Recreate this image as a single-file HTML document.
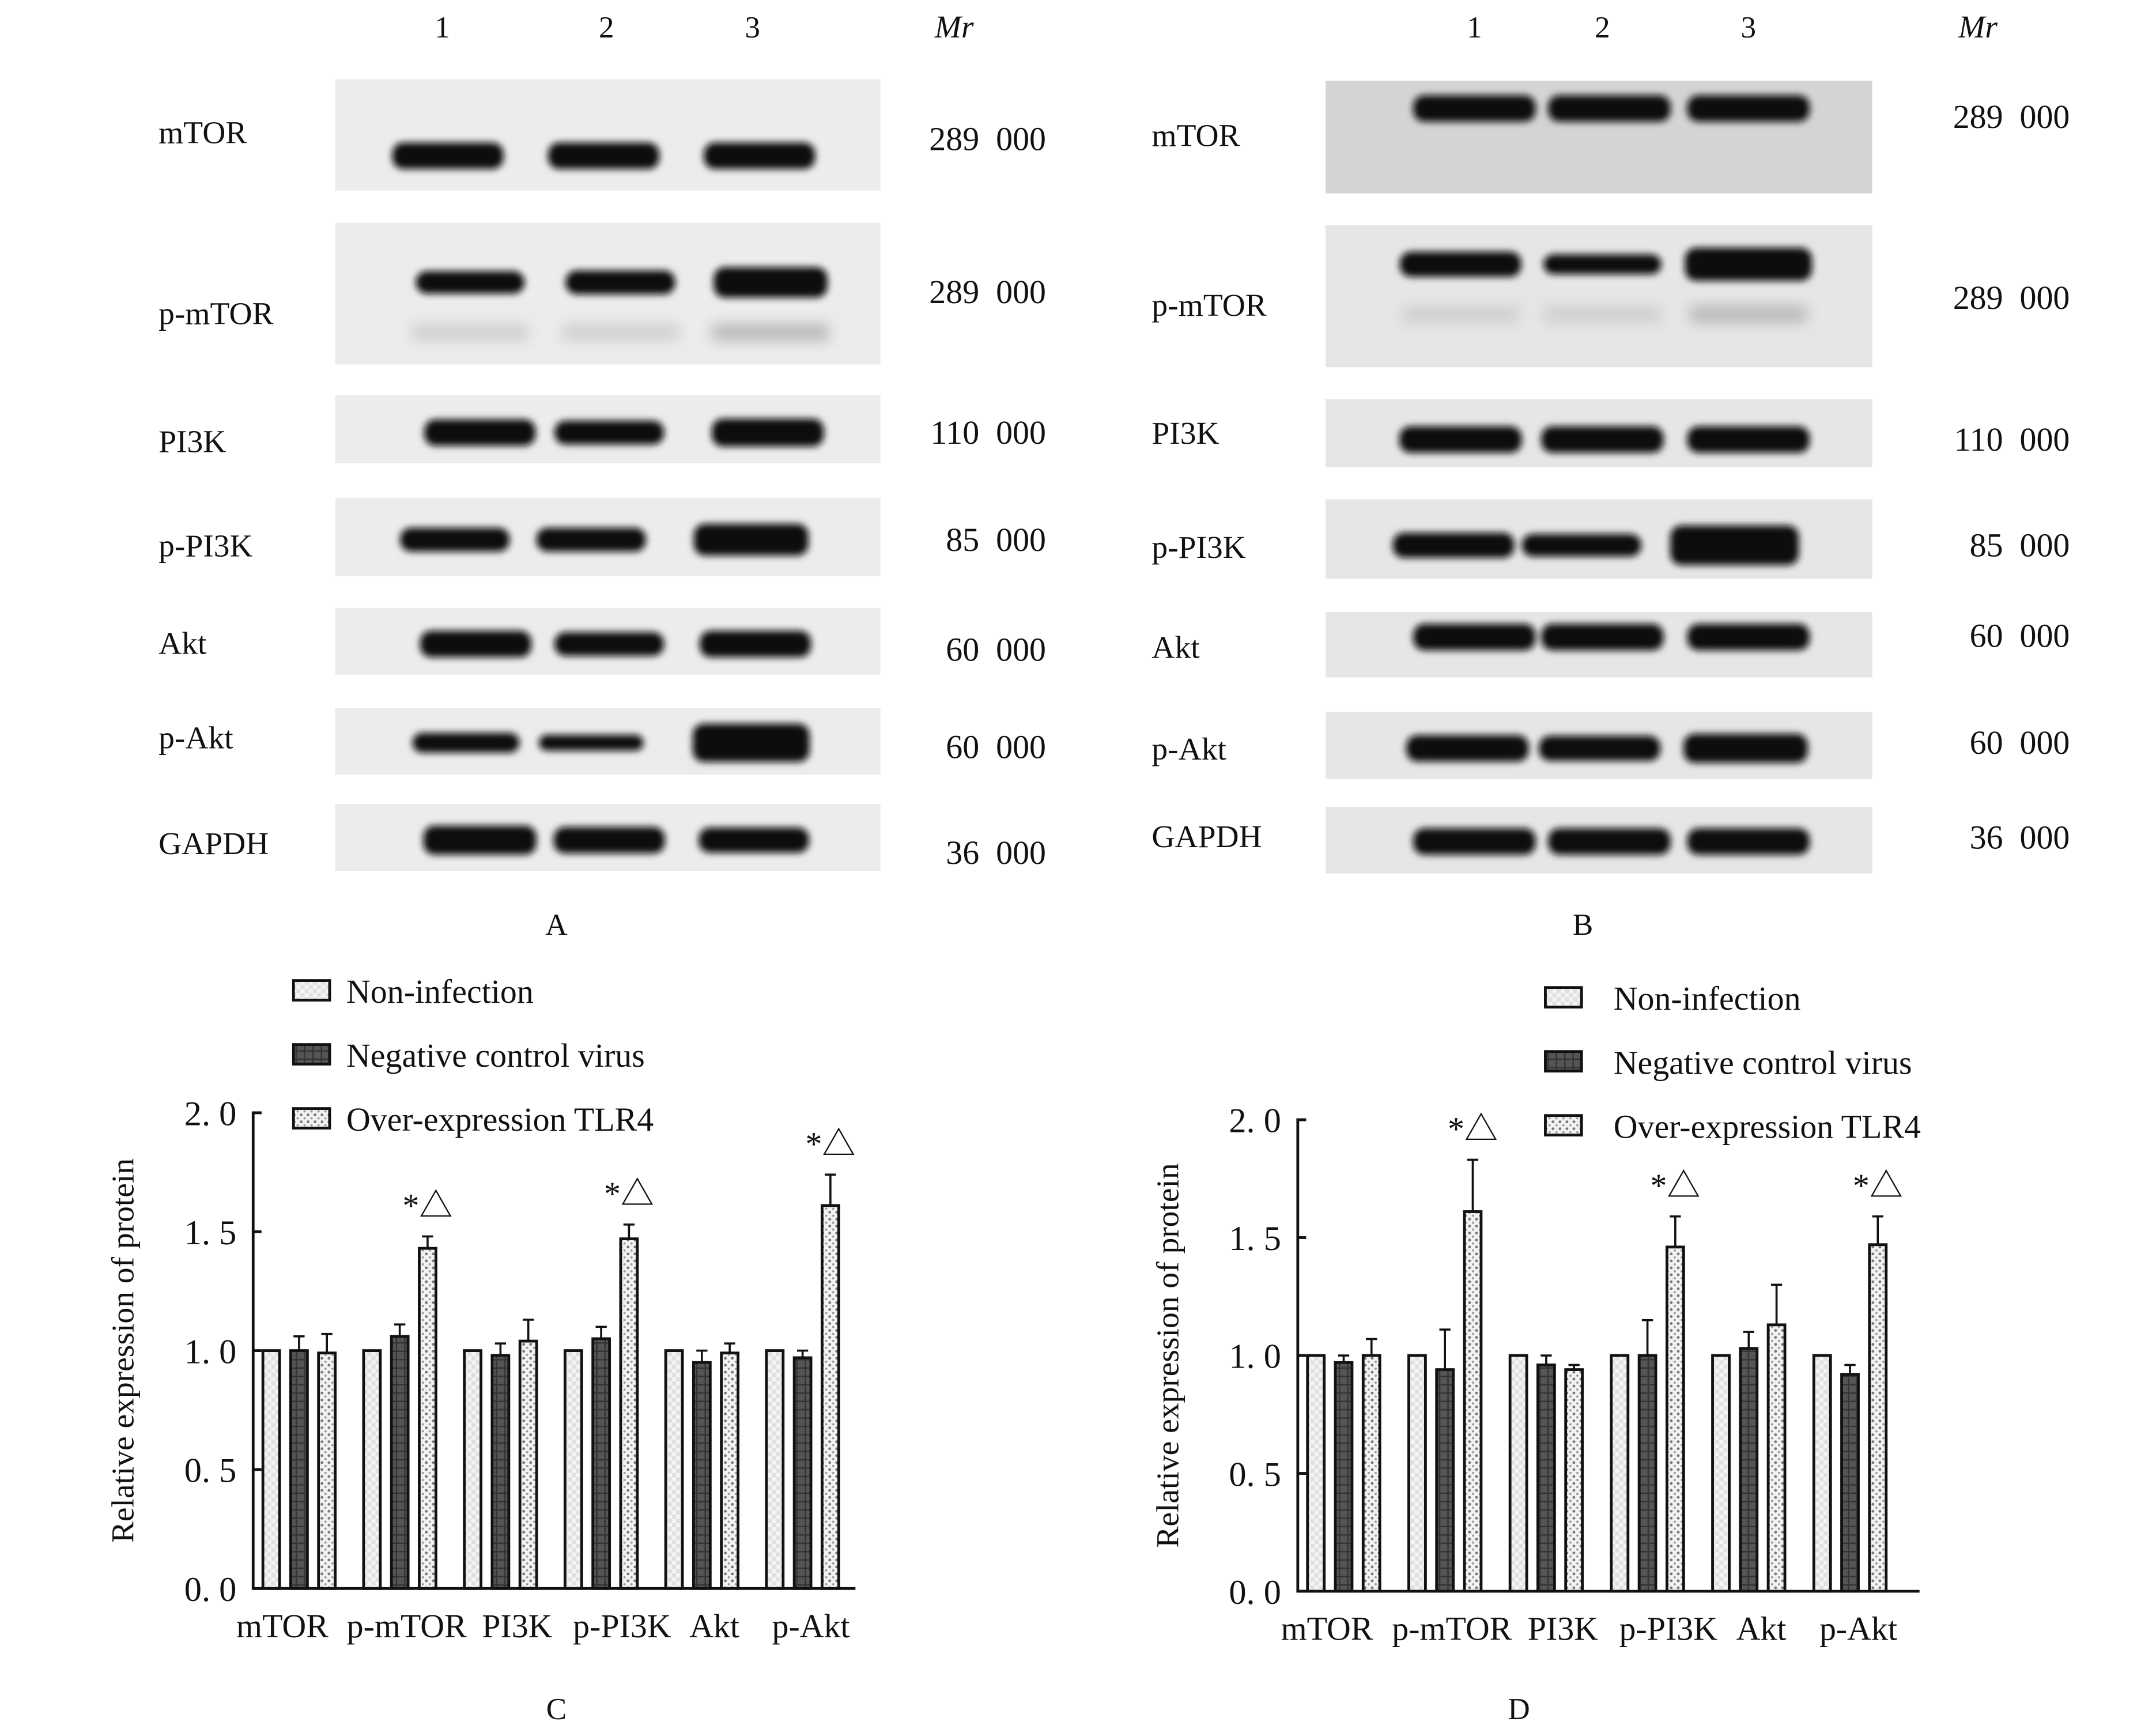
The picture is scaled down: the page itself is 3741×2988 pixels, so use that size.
<!DOCTYPE html>
<html><head><meta charset="utf-8"><style>
html,body{margin:0;padding:0;background:#fff}
svg{display:block}
text{font-family:"Liberation Serif","Noto Serif CJK SC",serif;fill:#111}
</style></head><body>
<svg width="3741" height="2988" viewBox="0 0 1550 1238" preserveAspectRatio="none" xmlns="http://www.w3.org/2000/svg" xml:space="preserve">
<defs>
<filter id="blur" x="-30%" y="-80%" width="160%" height="260%"><feGaussianBlur stdDeviation="2.5"/></filter>
<filter id="blur2" x="-30%" y="-80%" width="160%" height="260%"><feGaussianBlur stdDeviation="5"/></filter>
<pattern id="pNon" width="6" height="6" patternUnits="userSpaceOnUse"><rect width="6" height="6" fill="#f4f4f4"/><rect width="3" height="3" fill="#e0e0e0"/><rect x="3" y="3" width="3" height="3" fill="#e0e0e0"/></pattern>
<pattern id="pNeg" width="6" height="6" patternUnits="userSpaceOnUse"><rect width="6" height="6" fill="#555"/><path d="M0 5.5H6M3 0V6" stroke="#333" stroke-width="1"/></pattern>
<pattern id="pOver" width="5" height="5" patternUnits="userSpaceOnUse"><rect width="5" height="5" fill="#f2f2f2"/><circle cx="1.5" cy="1.5" r="1" fill="#777"/><circle cx="4" cy="4" r="0.8" fill="#999"/></pattern>
</defs>
<g id="blots"></g>
<g id="chartC"></g>
<g id="chartD"></g>
<text x="400" y="672" font-size="22" text-anchor="middle">A</text>
<text x="1138" y="672" font-size="22" text-anchor="middle">B</text>
<text x="400" y="1244" font-size="22" text-anchor="middle" dy="-8">C</text>
<text x="1092" y="1244" font-size="22" text-anchor="middle" dy="-8">D</text>
</svg>
<script>
const NS='http://www.w3.org/2000/svg';
function mk(tag,attrs,parent,txt){const e=document.createElementNS(NS,tag);for(const k in attrs)e.setAttribute(k,attrs[k]);if(txt!==undefined)e.textContent=txt;parent.appendChild(e);return e;}

// ---------- Blots ----------
const proteins=['mTOR','p-mTOR','PI3K','p-PI3K','Akt','p-Akt','GAPDH'];
const mrLabels=['289\u00a0\u00a0000','289\u00a0\u00a0000','110\u00a0\u00a0000','85\u00a0\u00a0000','60\u00a0\u00a0000','60\u00a0\u00a0000','36\u00a0\u00a0000'];
const blotsA={x0:241,x1:633,nums:[318,436,541],lanes:[[322,434,546],[338,446,554],[345,438,552],[327,425,540],[342,438,543],[335,425,540],[345,438,542]],bw:80,lab:114,mr:752,
 rows:[[57,137,112],[160,262,203],[284,333,311],[358,414,388],[437,485,463],[509,557,534],[578,626,604]],
 labY:[95,225,317,392,462,530,606],mrY:[100,210,311,388,467,537,613],
 strength:[[1,1,1],[.85,.9,1.15],[1,.9,1.05],[.9,.9,1.2],[1,.9,1],[.75,.6,1.45],[1.1,1,.95]],bg:'#ececec'};
const blotsB={x0:953,x1:1346,nums:[1060,1152,1257],lanes:[[1060,1157,1257],[1050,1152,1257],[1050,1152,1257],[1045,1137,1247],[1060,1152,1257],[1055,1150,1255],[1060,1157,1257]],bw:88,lab:828,mr:1488,
 rows:[[58,139,78],[162,264,190],[287,336,316],[359,416,392],[440,487,458],[512,560,538],[580,628,605]],
 labY:[97,219,311,393,465,538,601],mrY:[84,214,316,392,457,534,602],
 strength:[[1,1,1],[.95,.75,1.25],[1,1,1],[.95,.85,1.5],[1,1,1],[1,.95,1.1],[1,1,1]],bg:'#e6e6e6'};
const laneNums=['1','2','3'];
const blotG=document.getElementById('blots');
function drawBlots(B,tag){
  B.nums.forEach((x,i)=>{const t=mk('text',{x:x,y:27,'font-size':22,'text-anchor':'middle'},blotG,laneNums[i]);});
  const mr=mk('text',{x:B.mr-66,y:27,'font-size':23,'font-style':'italic','text-anchor':'middle'},blotG,'Mr');
  B.rows.forEach((r,i)=>{
    const bx=mk('rect',{x:B.x0,y:r[0],width:B.x1-B.x0,height:r[1]-r[0],fill:(tag==='b'&&i===0)?'#d4d4d4':B.bg},blotG);
    
    B.lanes[i].forEach((lx,j)=>{
      const s=B.strength[i][j];const h=Math.min(r[1]-r[0]-8,19*s);const w=B.bw*Math.min(1.05,0.85+0.15*s);
      const b=mk('rect',{x:lx-w/2,y:r[2]-h/2,width:w,height:h,rx:Math.min(h/2,8),fill:'#0a0a0a',filter:'url(#blur)'},blotG);
      
      if(i===1){const f=mk('rect',{x:lx-42,y:r[2]+30,width:84,height:12,fill:j===2?'#b8b8b8':'#cfcfcf',filter:'url(#blur2)'},blotG);}
    });
    const l=mk('text',{x:B.lab,y:B.labY[i]+8,'font-size':23},blotG,proteins[i]);
    const m=mk('text',{x:B.mr,y:B.mrY[i]+8,'font-size':24,'text-anchor':'end'},blotG,mrLabels[i]);
  });
}
drawBlots(blotsA,'a');drawBlots(blotsB,'b');

// ---------- Charts ----------
const categories=['mTOR','p-mTOR','PI3K','p-PI3K','Akt','p-Akt'];
const yTicks=[0,0.5,1.0,1.5,2.0];
const yTickLabels=['0.\u00a00','0.\u00a05','1.\u00a00','1.\u00a05','2.\u00a00'];
const seriesNames=['Non-infection','Negative control virus','Over-expression TLR4'];
const cNon=[1,1,1,1,1,1];
const cNeg=[1.0,1.06,0.98,1.05,0.95,0.97];
const cNegErr=[0.06,0.05,0.05,0.05,0.05,0.03];
const cOver=[0.99,1.43,1.04,1.47,0.99,1.61];
const cOverErr=[0.08,0.05,0.09,0.06,0.04,0.13];
const cSig=[false,true,false,true,false,true];
const dNon=[1,1,1,1,1,1];
const dNeg=[0.97,0.94,0.96,1.0,1.03,0.92];
const dNegErr=[0.03,0.17,0.04,0.15,0.07,0.04];
const dOver=[1.0,1.61,0.94,1.46,1.13,1.47];
const dOverErr=[0.07,0.22,0.02,0.13,0.17,0.12];
const dSig=[false,true,false,true,false,true];
const labelShift=[-12,5,12,15,9,6];

function drawChart(gid,cfg,non,neg,negErr,over,overErr,sig){
  const g=document.getElementById(gid);
  const y=v=>cfg.y0-(v/2)*(cfg.y0-cfg.y2);
  const gx=i=>cfg.gx0+i*cfg.gstep;
  const ax=mk('path',{d:`M${cfg.ax+6} ${cfg.y2}H${cfg.ax}V${cfg.y0}H${cfg.axEnd}`,stroke:'#111','stroke-width':2,fill:'none'},g);
  
  yTicks.forEach((t,i)=>{
    const tk=mk('line',{x1:cfg.ax,x2:cfg.ax+6,y1:y(t),y2:y(t),stroke:'#111','stroke-width':2},g);
    const tl=mk('text',{x:cfg.ax-12,y:y(t)+9,'font-size':25,'text-anchor':'end'},g,yTickLabels[i]);
  });
  const yt=mk('text',{x:0,y:0,'font-size':23,'text-anchor':'middle',transform:`translate(${cfg.ax-86},${(cfg.y0+cfg.y2)/2}) rotate(-90)`},g,'Relative expression of protein');
  
  const fills=['url(#pNon)','url(#pNeg)','url(#pOver)'];
  const bw=12;
  categories.forEach((c,i)=>{
    const vals=[non[i],neg[i],over[i]],errs=[0,negErr[i],overErr[i]];
    vals.forEach((v,k)=>{
      const cx=gx(i)+k*20;
      if(errs[k]>0){const e=mk('path',{d:`M${cx} ${y(v)}V${y(v+errs[k])}M${cx-4} ${y(v+errs[k])}H${cx+4}`,stroke:'#111','stroke-width':1.5,fill:'none'},g);}
      const r=mk('rect',{x:cx-bw/2,y:y(v),width:bw,height:y(0)-y(v),fill:fills[k],stroke:'#111','stroke-width':2},g);
      
    });
    if(sig[i]){const s=mk('text',{x:gx(i)+40,y:y(over[i]+overErr[i])-14,'font-size':24,'text-anchor':'middle'},g,'*△');}
    const xl=mk('text',{x:gx(i)+20+labelShift[i],y:cfg.y0+35,'font-size':24,'text-anchor':'middle'},g,c);
  });
  seriesNames.forEach((n,k)=>{
    const ly=cfg.legY+k*cfg.legStep;
    const sw=mk('rect',{x:cfg.legX,y:ly-8,width:26,height:14,fill:fills[k],stroke:'#111','stroke-width':2},g);
    const lt=mk('text',{x:cfg.legX+cfg.legTx,y:ly+8,'font-size':24},g,n);
  });
}
drawChart('chartC',{ax:182,axEnd:615,y0:1142,y2:800,gx0:195,gstep:72.4,legX:211,legY:713,legStep:46,legTx:38},cNon,cNeg,cNegErr,cOver,cOverErr,cSig);
drawChart('chartD',{ax:933,axEnd:1380,y0:1144,y2:805,gx0:946,gstep:72.8,legX:1111,legY:718,legStep:46,legTx:49},dNon,dNeg,dNegErr,dOver,dOverErr,dSig);
</script>
</body></html>
